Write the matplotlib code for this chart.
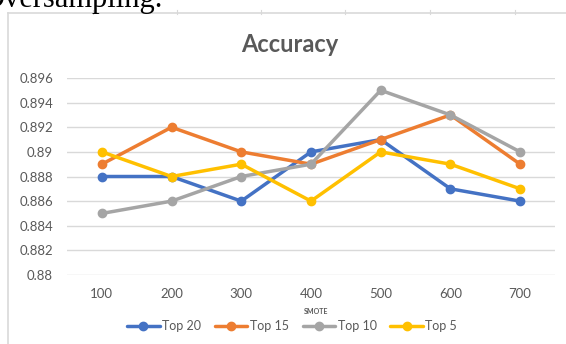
import matplotlib
matplotlib.use("Agg")
import matplotlib.pyplot as plt
from matplotlib.lines import Line2D

W, H = 566, 344

smote = ["100", "200", "300", "400", "500", "600", "700"]
top20 = [0.888, 0.888, 0.886, 0.890, 0.891, 0.887, 0.886]
top15 = [0.889, 0.892, 0.890, 0.889, 0.891, 0.893, 0.889]
top10 = [0.885, 0.886, 0.888, 0.889, 0.895, 0.893, 0.890]
top5 = [0.890, 0.888, 0.889, 0.886, 0.890, 0.889, 0.887]
series = [("Top 20", top20, "#4472C4"),
          ("Top 15", top15, "#ED7D31"),
          ("Top 10", top10, "#A5A5A5"),
          ("Top 5", top5, "#FFC000")]
yticks = [0.880, 0.882, 0.884, 0.886, 0.888, 0.890, 0.892, 0.894, 0.896]
ylabels = ["0.88", "0.882", "0.884", "0.886", "0.888", "0.89", "0.892", "0.894", "0.896"]

TXT = "#595959"
GRID = "#D9D9D9"
plt.rcParams["font.family"] = ["Lato", "DejaVu Sans"]


def px(x0, y0, x1, y1):
    # pixel box (top-left origin) -> figure fraction rect
    return [x0 / W, 1 - y1 / H, (x1 - x0) / W, (y1 - y0) / H]


fig = plt.figure(figsize=(W / 100, H / 100), dpi=100)

# page text above the embedded chart, cut off by the crop
fig.text(-17 / W, 1 - 7 / H, "Oversampling.", fontsize=22, family=["Liberation Serif", "DejaVu Serif"],
         color="black", ha="left", va="baseline")

# chart frame and the sheet cell lines behind it
fig.add_artist(Line2D([8 / W, 8 / W], [0, 1 - 13 / H], color=GRID, lw=1.2))
fig.add_artist(Line2D([8 / W, 1], [1 - 13 / H, 1 - 13 / H], color=GRID, lw=1.2))
for xt in [93, 177, 261, 345, 430, 515]:
    fig.add_artist(Line2D([xt / W, xt / W], [1 - 10 / H, 1 - 14 / H], color=GRID, lw=0.8))

ax = fig.add_axes(px(67, 78, 555, 275))
x = list(range(len(smote)))
for name, vals, col in series:
    ax.plot(x, vals, color=col, lw=2.5, marker="o", ms=6, label=name, solid_capstyle="round")

ax.set_xlim(-0.5, len(smote) - 0.5)
ax.set_ylim(0.880, 0.896)
ax.set_yticks(yticks)
ax.set_yticklabels(ylabels)
ax.set_xticks(x)
ax.set_xticklabels(smote)
ax.tick_params(length=0, colors=TXT, labelsize=9.5)
ax.tick_params(axis="y", pad=10)
ax.tick_params(axis="x", pad=9)
ax.grid(axis="y", color=GRID, lw=1)
ax.set_axisbelow(True)
for s in ax.spines.values():
    s.set_visible(False)

fig.text(290 / W, 1 - 45 / H, "Accuracy", fontsize=17, fontweight="bold", color=TXT,
         ha="center", va="center")
fig.text(316 / W, 1 - 312 / H, "SMOTE", fontsize=5, fontweight="bold", color=TXT,
         ha="center", va="center")

handles, labels = ax.get_legend_handles_labels()
fig.legend(handles, labels, loc="center", bbox_to_anchor=(292 / W, 1 - 326 / H), ncol=4,
           frameon=False, fontsize=9, handlelength=2.6, handletextpad=0.2, columnspacing=1.1,
           labelcolor=TXT, borderpad=0)

fig.savefig("out.png", dpi=100)
